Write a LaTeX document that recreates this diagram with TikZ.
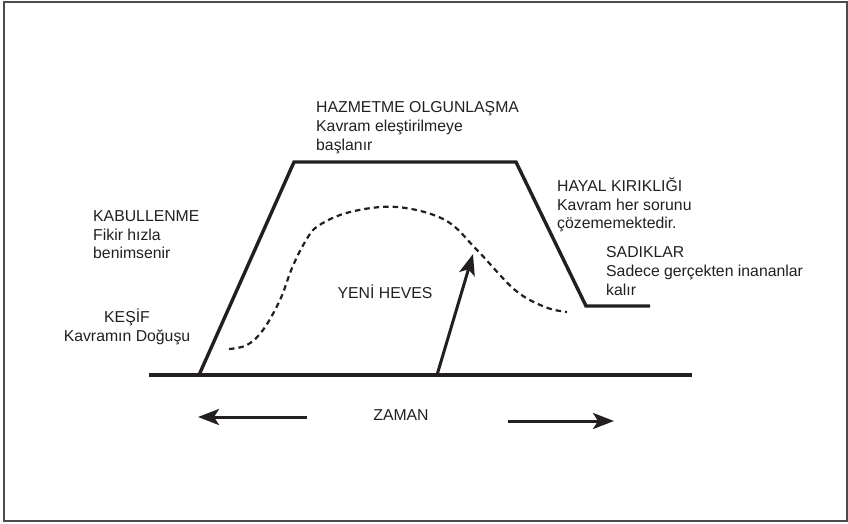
\documentclass[tikz,border=0pt]{standalone}
\usepackage{fontspec}
\setmainfont{Liberation Sans}
\usetikzlibrary{arrows.meta}
\definecolor{ink}{HTML}{231F20}

\begin{document}
\begin{tikzpicture}[x=1pt, y=-1pt, color=ink, font=\fontsize{15.8}{18.8}\selectfont]
    \tikzstyle{phase}=[inner sep=0pt, align=left, anchor=north west]
    \tikzstyle{hype}=[line width=3.4pt, line join=miter]
    \tikzstyle{timearrow}=[-{Stealth[length=21pt,width=16pt,inset=5pt]}, line width=3pt]

    \useasboundingbox (0,0) rectangle (848,523);
    \draw[line width=2pt, gray!60!black] (4,1.5) rectangle (846.5,521);

    % axis and curve corners
    \coordinate (axL) at (149,375);
    \coordinate (axR) at (692,375);
    \coordinate (t0) at (199,375);
    \coordinate (t1) at (294,162);
    \coordinate (t2) at (516,162);
    \coordinate (t3) at (586,306);
    \coordinate (t4) at (650,306);

    \draw[hype] (axL) -- (axR);
    \draw[hype] (t0) -- (t1) -- (t2) -- (t3) -- (t4);

    % new enthusiasm
    \draw[line width=2.2pt, dash pattern=on 5.5pt off 4pt] plot[smooth, tension=0.6] coordinates {(229,349) (247,345) (263,330) (280,300) (292,268) (305,242) (318,226) (350,212) (397,207) (445,220) (477,250) (515,290) (545,307) (567,312)};
    \coordinate (h0) at (437,375);
    \coordinate (h1) at (473,254);
    \draw[timearrow] (h0) -- (h1);

    % labels
    \node[phase] (hazmetme) at (316,101.3) {HAZMETME OLGUNLAŞMA\\Kavram eleştirilmeye\\başlanır};
    \node[phase] (kabul) at (93,210.3) {KABULLENME\\Fikir hızla\\benimsenir};
    \node[phase, align=center, anchor=north] (kesif) at (127,308.4) {KEŞİF\\Kavramın Doğuşu};
    \node[phase] (hayal) at (557,177.4) {HAYAL KIRIKLIĞI\\Kavram her sorunu\\çözememektedir.};
    \node[phase] (sadik) at (606,246.3) {SADIKLAR\\Sadece gerçekten inananlar\\kalır};
    \node[inner sep=0pt, anchor=base] (yeni) at (385,298.7) {YENİ HEVES};

    % time
    \node[inner sep=0pt, anchor=base] (zaman) at (401,420.7) {ZAMAN};
    \coordinate (zl0) at (307,417);
    \coordinate (zl1) at (198,417);
    \coordinate (zr0) at (508,421);
    \coordinate (zr1) at (614,421);
    \draw[timearrow] (zl0) -- (zl1);
    \draw[timearrow] (zr0) -- (zr1);
\end{tikzpicture}
\end{document}
